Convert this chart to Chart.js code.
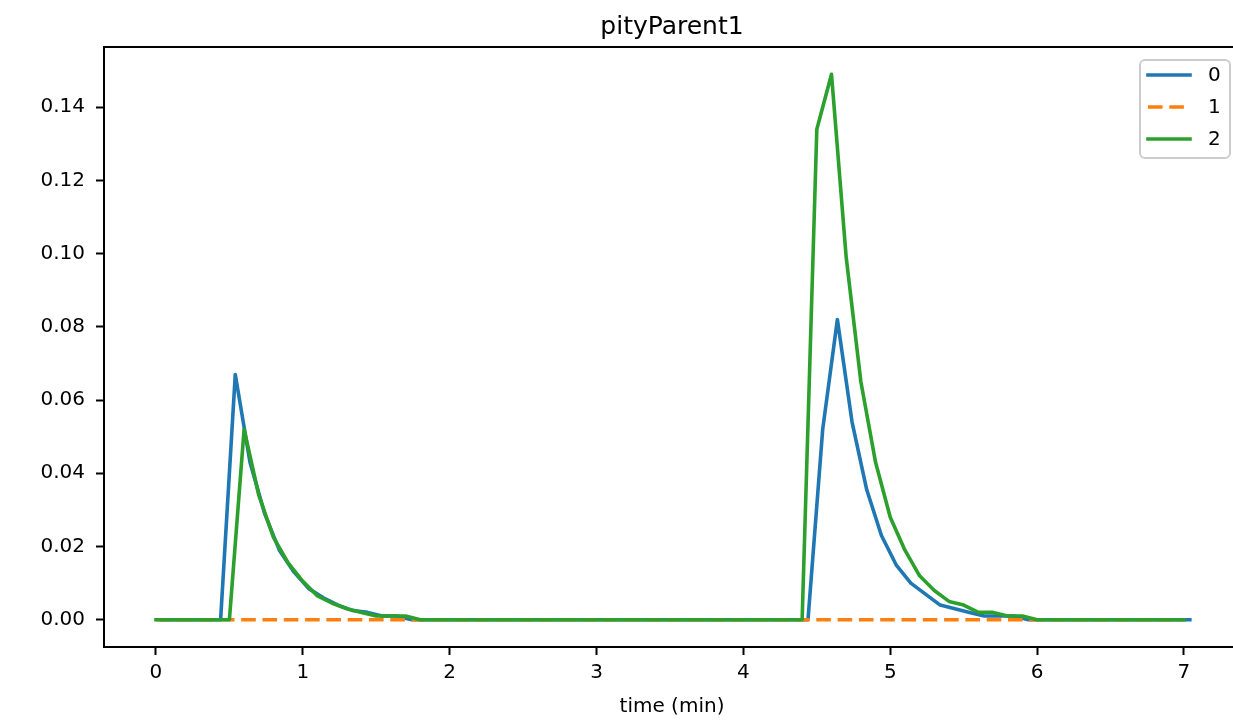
<!DOCTYPE html>
<html>
<head>
<meta charset="utf-8">
<title>pityParent1</title>
<script src="https://cdn.jsdelivr.net/npm/chart.js@4/dist/chart.umd.min.js"></script>
<style>
  html, body { margin: 0; padding: 0; background: #fff; overflow: hidden; }
  #wrap { width: 1233px; height: 721px; }
</style>
</head>
<body>
<div id="wrap"><canvas id="chart" width="1233" height="721"></canvas></div>
<script>
// Chart text
const chartTitle = 'pityParent1';
const xLabel = 'time (min)';
const seriesNames = ['0', '1', '2'];

// Axis ticks
const xTicks = [0, 1, 2, 3, 4, 5, 6, 7];
const yTicks = [0, 0.02, 0.04, 0.06, 0.08, 0.10, 0.12, 0.14];

// Series 0 (blue) - zero stretches kept by their end points
const times0 = [0.04, 0.44, 0.54, 0.64, 0.74, 0.84, 0.94, 1.04, 1.14, 1.24, 1.34, 1.44, 1.54, 1.64, 1.74,
                4.44, 4.54, 4.64, 4.74, 4.84, 4.94, 5.04, 5.14, 5.24, 5.34, 5.44, 5.54, 5.64, 5.74, 5.84, 5.94,
                7.04];
const values0 = [0, 0, 0.067, 0.043, 0.029, 0.019, 0.013, 0.0085, 0.006, 0.004, 0.0025, 0.002, 0.001, 0.001, 0,
                 0, 0.052, 0.082, 0.054, 0.0355, 0.023, 0.015, 0.010, 0.007, 0.004, 0.003, 0.002, 0.001, 0.001, 0.001, 0,
                 0];

// Series 1 (orange, dashed) - flat at zero
const times1 = [0, 7.0];
const values1 = [0, 0];

// Series 2 (green)
const times2 = [0, 0.5, 0.6, 0.7, 0.8, 0.9, 1.0, 1.1, 1.2, 1.3, 1.4, 1.5, 1.6, 1.7, 1.8,
                4.4, 4.5, 4.6, 4.7, 4.8, 4.9, 5.0, 5.1, 5.2, 5.3, 5.4, 5.5, 5.6, 5.7, 5.8, 5.9, 6.0,
                7.0];
const values2 = [0, 0, 0.052, 0.034, 0.0225, 0.0155, 0.0105, 0.0065, 0.0045, 0.003, 0.002, 0.001, 0.001, 0.001, 0,
                 0, 0.134, 0.149, 0.099, 0.065, 0.043, 0.028, 0.019, 0.012, 0.008, 0.005, 0.004, 0.002, 0.002, 0.001, 0.001, 0,
                 0];

const colors = ['#1f77b4', '#ff7f0e', '#2ca02c'];
const FONT = '"DejaVu Sans", "Liberation Sans", sans-serif';
const LW = 3.6;
const DASH = [14.6, 6.7];

function toPoints(xs, ys) {
    return xs.map((x, i) => ({ x: x, y: ys[i] }));
}

// Title, top spine, x label and legend, drawn matplotlib-style
const decorations = {
    id: 'decorations',
    afterDraw(chart) {
        const ctx = chart.ctx;
        const a = chart.chartArea;
        ctx.save();

        // top spine (right spine falls outside the picture)
        ctx.strokeStyle = '#000';
        ctx.lineWidth = 2;
        ctx.beginPath();
        ctx.moveTo(a.left - 1, a.top);
        ctx.lineTo(a.right, a.top);
        ctx.stroke();

        // title and x label
        ctx.fillStyle = '#000';
        ctx.textAlign = 'center';
        ctx.textBaseline = 'alphabetic';
        ctx.font = '25px ' + FONT;
        ctx.fillText(chartTitle, 672, 34);
        ctx.font = '20px ' + FONT;
        ctx.fillText(xLabel, 672, 712);

        // legend box
        const bx = 1140, by = 60, bw = 90, bh = 98, r = 5;
        ctx.beginPath();
        ctx.moveTo(bx + r, by);
        ctx.lineTo(bx + bw - r, by);
        ctx.arcTo(bx + bw, by, bx + bw, by + r, r);
        ctx.lineTo(bx + bw, by + bh - r);
        ctx.arcTo(bx + bw, by + bh, bx + bw - r, by + bh, r);
        ctx.lineTo(bx + r, by + bh);
        ctx.arcTo(bx, by + bh, bx, by + bh - r, r);
        ctx.lineTo(bx, by + r);
        ctx.arcTo(bx, by, bx + r, by, r);
        ctx.closePath();
        ctx.fillStyle = 'rgba(255,255,255,0.8)';
        ctx.fill();
        ctx.strokeStyle = '#cccccc';
        ctx.lineWidth = 2;
        ctx.stroke();

        // legend entries
        const rows = [75, 107, 139];
        ctx.textAlign = 'left';
        ctx.textBaseline = 'middle';
        ctx.font = '20px ' + FONT;
        rows.forEach((y, i) => {
            ctx.beginPath();
            ctx.strokeStyle = colors[i];
            ctx.lineWidth = LW;
            if (i === 1) {
                ctx.setLineDash(DASH);
                ctx.lineCap = 'butt';
            } else {
                ctx.setLineDash([]);
                ctx.lineCap = 'square';
            }
            ctx.moveTo(1148, y);
            ctx.lineTo(1190, y);
            ctx.stroke();
            ctx.setLineDash([]);
            ctx.fillStyle = '#000';
            ctx.fillText(seriesNames[i], 1208, y + 1);
        });

        ctx.restore();
    }
};

const ctx = document.getElementById('chart').getContext('2d');
const chart = new Chart(ctx, {
    type: 'line',
    data: {
        datasets: [
            {
                label: seriesNames[0],
                data: toPoints(times0, values0),
                borderColor: colors[0],
                borderWidth: LW,
                borderCapStyle: 'square',
                borderJoinStyle: 'round',
                order: 2
            },
            {
                label: seriesNames[1],
                data: toPoints(times1, values1),
                borderColor: colors[1],
                borderWidth: LW,
                borderDash: DASH,
                borderCapStyle: 'butt',
                borderJoinStyle: 'round',
                order: 1
            },
            {
                label: seriesNames[2],
                data: toPoints(times2, values2),
                borderColor: colors[2],
                borderWidth: LW,
                borderCapStyle: 'square',
                borderJoinStyle: 'round',
                order: 0
            }
        ]
    },
    options: {
        responsive: false,
        animation: false,
        devicePixelRatio: 1,
        parsing: true,
        elements: {
            point: { radius: 0, hoverRadius: 0 },
            line: { tension: 0, fill: false }
        },
        layout: { padding: { top: 47, left: 0, right: 0, bottom: 0 } },
        plugins: {
            legend: { display: false },
            title: { display: false },
            tooltip: { enabled: false }
        },
        scales: {
            x: {
                type: 'linear',
                min: -0.354,
                max: 7.334,
                afterBuildTicks: (scale) => { scale.ticks = xTicks.map(v => ({ value: v })); },
                afterFit: (scale) => { scale.height = 74; },
                grid: {
                    drawOnChartArea: false,
                    drawTicks: true,
                    tickLength: 8,
                    tickWidth: 2,
                    tickColor: '#000'
                },
                border: { display: true, color: '#000', width: 2 },
                ticks: {
                    color: '#000',
                    font: { family: FONT, size: 20 },
                    padding: 6,
                    maxRotation: 0,
                    autoSkip: false,
                    callback: (v) => String(v)
                }
            },
            y: {
                type: 'linear',
                min: -0.00745,
                max: 0.15645,
                afterBuildTicks: (scale) => { scale.ticks = yTicks.map(v => ({ value: v })); },
                afterFit: (scale) => { scale.width = 104; },
                grid: {
                    drawOnChartArea: false,
                    drawTicks: true,
                    tickLength: 8,
                    tickWidth: 2,
                    tickColor: '#000'
                },
                border: { display: true, color: '#000', width: 2 },
                ticks: {
                    color: '#000',
                    font: { family: FONT, size: 20 },
                    padding: 11,
                    autoSkip: false,
                    callback: (v) => v.toFixed(2)
                }
            }
        }
    },
    plugins: [decorations]
});
</script>
</body>
</html>
